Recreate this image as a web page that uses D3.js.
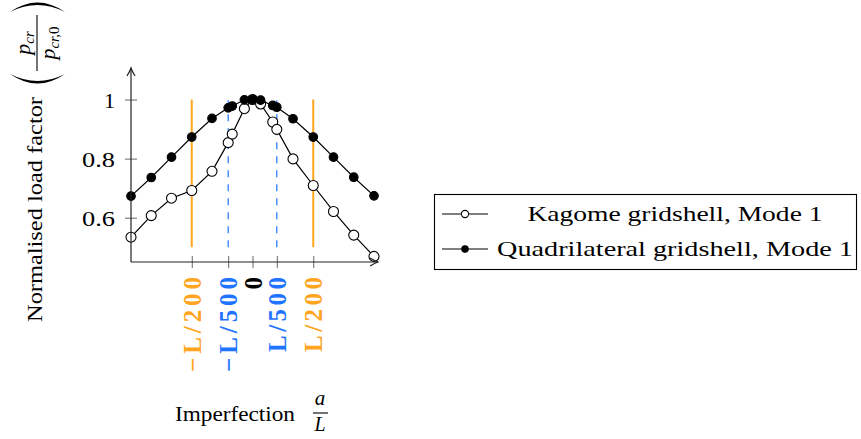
<!DOCTYPE html>
<html>
<head>
<meta charset="utf-8">
<script src="https://cdn.jsdelivr.net/npm/d3@7"></script>
<style>
  html, body { margin: 0; padding: 0; background: #fff; }
  svg { display: block; }
  text { font-family: "Liberation Serif", "DejaVu Serif", serif; }
</style>
</head>
<body>
<svg id="chart" width="861" height="439"></svg>
<script>
// imperfection amplitude a/L (L/100 ... L/1500 on both sides)
const imperfection = [-1/100, -1/120, -1/150, -1/200, -1/300, -1/500, -1/600, -1/1500, 0,
                      1/1500, 1/600, 1/500, 1/300, 1/200, 1/150, 1/120, 1/100];
const kagome = [0.534, 0.607, 0.666, 0.692, 0.757, 0.854, 0.883, 0.969, 1.0,
                0.985, 0.924, 0.899, 0.799, 0.709, 0.621, 0.541, 0.469];
const quadrilateral = [0.673, 0.736, 0.805, 0.873, 0.936, 0.972, 0.978, 0.999, 1.0,
                       0.998, 0.980, 0.974, 0.935, 0.873, 0.805, 0.737, 0.674];

const yTicks = [0.6, 0.8, 1];
const yTickLabels = ["0.6", "0.8", "1"];
const xTicks = [-1/200, -1/500, 0, 1/500, 1/200];
const xTickLabels = ["\u2212L/200", "\u2212L/500", "0", "L/500", "L/200"];

// reference lines
const limitL200 = [-1/200, 1/200];
const limitL500 = [-1/500, 1/500];
const refRange = [0.5, 1];

const orange = "#ffa51f", blue = "#1f74ff";
const xTickColors = [orange, blue, "#000", blue, orange];

const series = [
  { name: "Kagome gridshell, Mode 1", values: kagome, fill: "#fff", r: 5, legendR: 3.6 },
  { name: "Quadrilateral gridshell, Mode 1", values: quadrilateral, fill: "#000", r: 4.3, legendR: 3.2 }
];

const svg = d3.select("#chart");

const x = d3.scaleLinear().domain([-0.01, 0.01]).range([131, 374]);
const y = d3.scaleLinear().domain([0.45, 1.1]).range([262, 70]);

const plot = svg.append("g");

// reference lines
plot.selectAll("line.l200").data(limitL200).enter().append("line")
  .attr("x1", d => x(d)).attr("x2", d => x(d))
  .attr("y1", y(refRange[0])).attr("y2", y(refRange[1]))
  .attr("stroke", orange).attr("stroke-width", 2);

plot.selectAll("line.l500").data(limitL500).enter().append("line")
  .attr("x1", d => x(d)).attr("x2", d => x(d))
  .attr("y1", y(refRange[0])).attr("y2", y(refRange[1]))
  .attr("stroke", blue).attr("stroke-width", 1.2)
  .attr("stroke-dasharray", "7,7");

// axes
const yAxis = svg.append("g").attr("transform", "translate(" + x(-0.01) + ",0)")
  .call(d3.axisLeft(y).tickValues(yTicks).tickSize(6).tickFormat((d, i) => yTickLabels[i]));
yAxis.select(".domain").remove();
yAxis.selectAll(".tick line").attr("x1", 6).attr("stroke", "#666").attr("stroke-width", 1);
yAxis.selectAll(".tick text")
  .attr("x", -16).attr("dy", "0.34em")
  .attr("font-family", "Liberation Serif").attr("font-size", 22).attr("fill", "#000")
  .each(function(d, i) {
    if (yTickLabels[i].length > 1) d3.select(this).attr("textLength", 33).attr("lengthAdjust", "spacingAndGlyphs");
  });

const xAxis = svg.append("g").attr("transform", "translate(0," + y(0.45) + ")")
  .call(d3.axisBottom(x).tickValues(xTicks).tickSize(6).tickFormat((d, i) => xTickLabels[i]));
xAxis.select(".domain").remove();
xAxis.selectAll(".tick line").attr("y1", -6).attr("stroke", "#666").attr("stroke-width", 1);
xAxis.selectAll(".tick text")
  .attr("x", 0).attr("y", 0).attr("dy", 0)
  .attr("transform", "translate(8.5,15) rotate(-90)")
  .attr("text-anchor", "end")
  .attr("font-family", "Liberation Serif").attr("font-weight", "bold").attr("font-size", 25)
  .attr("fill", (d, i) => xTickColors[i])
  .each(function(d, i) {
    const len = xTickLabels[i].length;
    if (len > 1) d3.select(this).attr("textLength", len === 6 ? 95 : 75).attr("lengthAdjust", "spacing");
  });

// axis lines with arrow tips
const x0 = x.range()[0], xEnd = x.range()[1] + 4;
const y0 = y.range()[0], yEnd = y.range()[1] - 2;
svg.append("line").attr("x1", x0).attr("x2", xEnd).attr("y1", y0).attr("y2", y0)
  .attr("stroke", "#222").attr("stroke-width", 1.2);
svg.append("line").attr("x1", x0).attr("x2", x0).attr("y1", y0).attr("y2", yEnd)
  .attr("stroke", "#222").attr("stroke-width", 1.2);
svg.append("path")
  .attr("d", `M${xEnd - 8},${y0 - 4} Q${xEnd - 3},${y0 - 1} ${xEnd},${y0} Q${xEnd - 3},${y0 + 1} ${xEnd - 8},${y0 + 4}`)
  .attr("fill", "none").attr("stroke", "#222").attr("stroke-width", 1.2);
svg.append("path")
  .attr("d", `M${x0 - 4},${yEnd + 8} Q${x0 - 1},${yEnd + 3} ${x0},${yEnd} Q${x0 + 1},${yEnd + 3} ${x0 + 4},${yEnd + 8}`)
  .attr("fill", "none").attr("stroke", "#222").attr("stroke-width", 1.2);

// series
const line = d3.line().x((d, i) => x(imperfection[i])).y(d => y(d));
series.forEach(s => {
  const g = plot.append("g");
  g.append("path").datum(s.values).attr("d", line)
    .attr("fill", "none").attr("stroke", "#000").attr("stroke-width", 1.2);
  g.selectAll("circle").data(s.values).enter().append("circle")
    .attr("cx", (d, i) => x(imperfection[i])).attr("cy", d => y(d))
    .attr("r", s.r).attr("fill", s.fill).attr("stroke", "#000").attr("stroke-width", 1.1);
});

// y axis label
const yl = svg.append("g").attr("transform", "translate(42,322) rotate(-90)");
yl.append("text").attr("x", 0).attr("y", 0).attr("font-size", 21)
  .attr("textLength", 225).attr("lengthAdjust", "spacingAndGlyphs")
  .text("Normalised load factor");

const fr = svg.append("g").attr("transform", "translate(37,43) rotate(-90)");
fr.append("line").attr("x1", -28).attr("x2", 28).attr("y1", 0).attr("y2", 0)
  .attr("stroke", "#000").attr("stroke-width", 1.1);
const num = fr.append("text").attr("x", 0).attr("y", -7).attr("text-anchor", "middle").attr("font-size", 22);
num.append("tspan").attr("font-style", "italic").text("p");
num.append("tspan").attr("font-style", "italic").attr("font-size", 15).attr("dy", 4).text("cr");
const den = fr.append("text").attr("x", 0).attr("y", 18).attr("text-anchor", "middle").attr("font-size", 22);
den.append("tspan").attr("font-style", "italic").text("p");
den.append("tspan").attr("font-style", "italic").attr("font-size", 15).attr("dy", 4).text("cr,");
den.append("tspan").attr("font-size", 15).text("0");
fr.append("path").attr("d", "M-31,-27 Q-50,0.5 -31,28 Q-45,0.5 -31,-27 Z").attr("fill", "#000");
fr.append("path").attr("d", "M31,-27 Q50,0.5 31,28 Q45,0.5 31,-27 Z").attr("fill", "#000");

// x axis label
svg.append("text").attr("x", 175).attr("y", 421).attr("font-size", 21)
  .attr("textLength", 120).attr("lengthAdjust", "spacingAndGlyphs")
  .text("Imperfection");
svg.append("text").attr("x", 320).attr("y", 405).attr("text-anchor", "middle")
  .attr("font-size", 21).attr("font-style", "italic").text("a");
svg.append("line").attr("x1", 313).attr("x2", 328).attr("y1", 413).attr("y2", 413)
  .attr("stroke", "#000").attr("stroke-width", 1.1);
svg.append("text").attr("x", 320).attr("y", 431).attr("text-anchor", "middle")
  .attr("font-size", 20).attr("font-style", "italic").text("L");

// legend
const legend = svg.append("g");
legend.append("rect").attr("x", 434.5).attr("y", 194.5).attr("width", 422).attr("height", 75)
  .attr("fill", "#fff").attr("stroke", "#000").attr("stroke-width", 1.1);
const rows = legend.selectAll("g.row").data(series).enter().append("g")
  .attr("transform", (d, i) => "translate(0," + (214 + i * 35) + ")");
rows.append("line").attr("x1", 442).attr("x2", 488).attr("y1", 0).attr("y2", 0)
  .attr("stroke", "#000").attr("stroke-width", 1.2);
rows.append("circle").attr("cx", 465).attr("cy", 0).attr("r", d => d.legendR)
  .attr("fill", d => d.fill).attr("stroke", "#000").attr("stroke-width", 1.1);
rows.append("text").attr("x", 675).attr("y", 7).attr("text-anchor", "middle").attr("font-size", 22)
  .attr("textLength", (d, i) => i === 0 ? 295 : 356).attr("lengthAdjust", "spacingAndGlyphs")
  .text(d => d.name);
</script>
</body>
</html>
